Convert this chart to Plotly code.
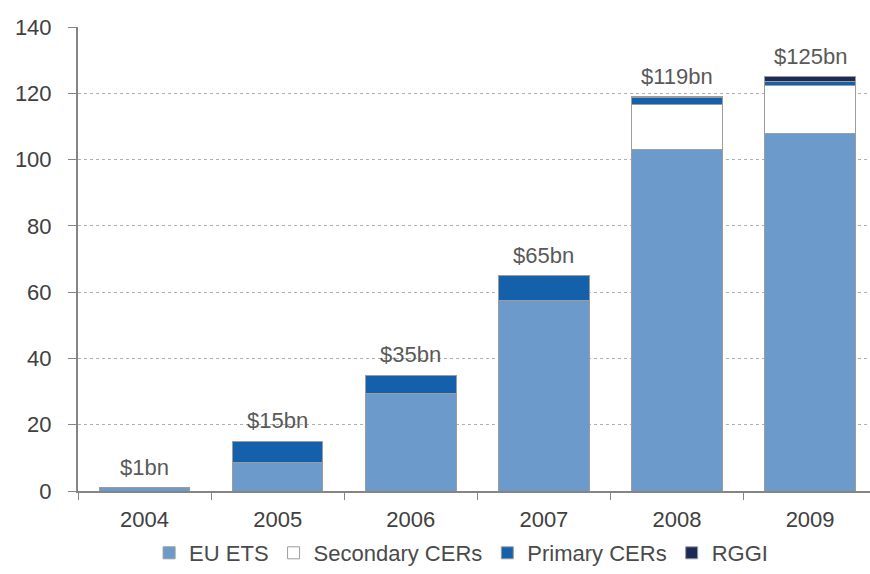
import plotly.graph_objects as go

years = ["2004", "2005", "2006", "2007", "2008", "2009"]
eu_ets = [1.0, 8.5, 29.5, 57.5, 103.0, 108.0]
secondary_cers = [0.0, 0.0, 0.0, 0.0, 13.5, 14.5]
primary_cers = [0.0, 6.5, 5.5, 7.5, 2.3, 1.0]
rggi = [0.0, 0.0, 0.0, 0.0, 0.2, 1.5]
total_labels = ["$1bn", "$15bn", "$35bn", "$65bn", "$119bn", "$125bn"]
totals = [1, 15, 35, 65, 119, 125]

FONT = "Liberation Sans, Arial, sans-serif"
OUTLINE = dict(color="#9c9c9c", width=1)

fig = go.Figure()
series = [
    ("EU ETS", eu_ets, "#6b9acb"),
    ("Secondary CERs", secondary_cers, "#ffffff"),
    ("Primary CERs", primary_cers, "#1560aa"),
    ("RGGI", rggi, "#1b2b57"),
]
for name, vals, col in series:
    fig.add_trace(go.Bar(
        x=years, y=vals, name=name,
        marker=dict(color=col, line=OUTLINE),
        width=0.68,
    ))

# total value above each stack (category index on the x axis)
for i, (tot, lab) in enumerate(zip(totals, total_labels)):
    fig.add_annotation(
        x=i, y=tot, text=lab, showarrow=False,
        xref="x", yref="y",
        yanchor="bottom", yshift=6,
        font=dict(family=FONT, size=22, color="#595959"),
    )

fig.update_layout(
    barmode="stack",
    width=870, height=574,
    margin=dict(l=78, r=0, t=27, b=83),
    paper_bgcolor="white", plot_bgcolor="white",
    font=dict(family=FONT, size=22, color="#404040"),
    showlegend=True,
    legend=dict(
        orientation="h", xref="container", yref="container",
        x=0.53, xanchor="center", y=0.0, yanchor="bottom",
        font=dict(size=22, color="#4a4a4a"),
        itemwidth=30, traceorder="normal",
    ),
    xaxis=dict(
        type="category",
        range=[-0.5, 5.45],
        showline=True, linecolor="#858585", linewidth=2,
        ticks="outside", tickson="boundaries", ticklen=7,
        tickcolor="#858585", tickwidth=1,
        tickfont=dict(size=22, color="#404040"),
        ticklabelstandoff=8,
        showgrid=False,
    ),
    yaxis=dict(
        range=[0, 140], dtick=20,
        showline=True, linecolor="#858585", linewidth=2,
        ticks="outside", ticklen=8, tickcolor="#858585",
        tickfont=dict(size=22, color="#404040"),
        ticklabelstandoff=12,
        showgrid=True, gridcolor="#b0b0b0", griddash="dot", gridwidth=1,
        zeroline=False,
    ),
)

fig.write_html("out.html")
